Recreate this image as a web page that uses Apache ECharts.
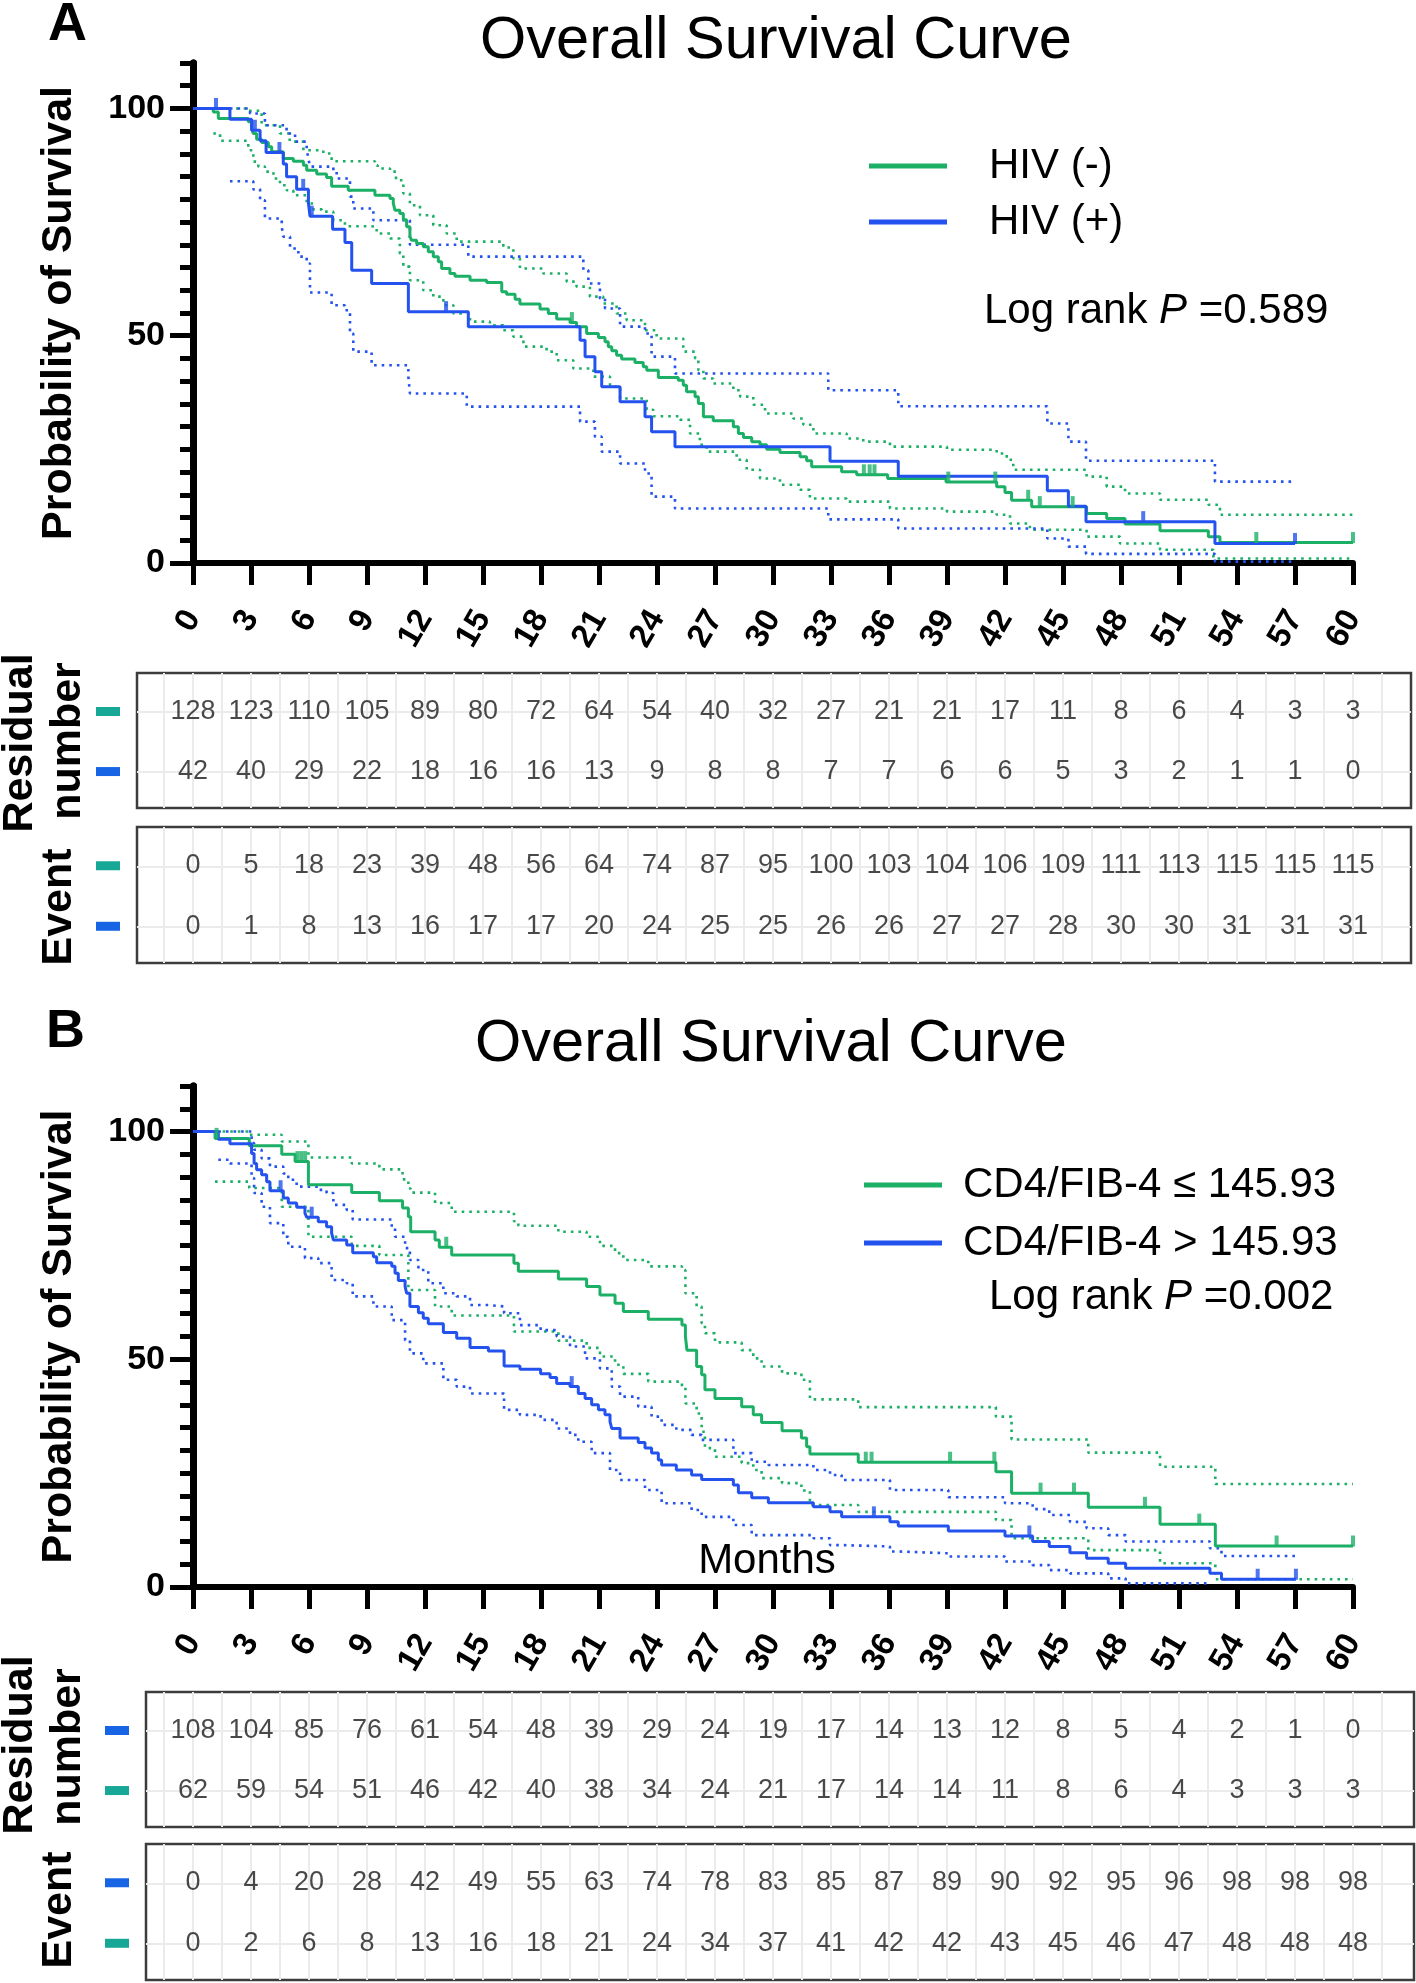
<!DOCTYPE html>
<html><head><meta charset="utf-8">
<script src="https://cdn.jsdelivr.net/npm/echarts@6/dist/echarts.min.js"></script>
<style>html,body{margin:0;padding:0;background:#fff}#c{width:1416px;height:1983px}</style>
</head><body><div id="c"></div>
<script>
// ---------- DATA ----------
const months = [0,3,6,9,12,15,18,21,24,27,30,33,36,39,42,45,48,51,54,57,60];
const yMajorTicks = [0,50,100];

// Panel A: HIV (-) green, HIV (+) blue  [month, survival %]
const osA_hivNeg = [[0,100],[1.05,99.2],[1.31,97.8],[2.86,97.1],[3.03,95.6],[3.12,94.5],[3.29,93.2],[3.55,92.5],[3.9,91.6],[4.07,90.5],[4.67,89.0],[5.19,88.4],[5.71,87.5],[5.88,86.4],[6.4,85.6],[6.91,84.8],[7.17,82.9],[8.03,82.0],[9.41,80.9],[10.19,80.2],[10.36,79.1],[10.45,77.6],[10.7,76.9],[10.88,75.5],[11.05,74.0],[11.22,71.8],[11.31,71.0],[11.57,70.3],[11.91,69.6],[12.17,68.5],[12.43,67.4],[12.69,66.3],[12.86,64.8],[13.29,63.7],[13.55,63.1],[14.33,62.2],[15.19,61.7],[15.97,59.7],[16.22,59.1],[16.66,58.0],[16.91,57.0],[17.95,55.9],[18.38,54.9],[18.81,53.7],[19.5,52.9],[19.84,52.0],[20.36,50.5],[20.97,49.6],[21.31,48.7],[21.48,47.6],[21.66,46.7],[21.91,45.7],[22.17,44.9],[22.86,44.1],[23.29,43.2],[23.47,42.4],[24.07,40.8],[25.1,40.2],[25.36,39.1],[25.53,37.7],[25.97,36.6],[26.14,35.1],[26.4,32.2],[26.91,31.3],[27.95,30.0],[28.21,28.5],[28.47,27.6],[28.9,26.7],[29.33,26.0],[29.67,25.0],[30.36,24.3],[31.4,23.4],[31.74,22.5],[32.0,21.2],[33.55,20.1],[34.33,19.4],[35.93,18.6],[38.95,17.8],[41.57,16.8],[42.0,15.5],[42.34,13.8],[43.38,12.4],[46.22,10.9],[47.26,9.8],[48.21,8.6],[50.02,7.1],[52.52,5.8],[53.12,4.5],[60,4.5]];
const osA_hivNeg_upper = [[1.05,100],[2.86,99.5],[3.55,96.3],[4.5,94.5],[5.0,92.7],[5.71,90.8],[6.74,90.1],[7.17,88.4],[9.41,87.5],[9.55,86.8],[10.19,86.1],[10.5,84.2],[10.88,81.3],[11.22,78.7],[11.74,76.5],[12.43,74.3],[13.12,72.5],[13.64,70.7],[16.05,69.4],[16.57,67.0],[16.91,64.8],[18.12,63.7],[19.33,61.9],[19.84,60.8],[20.53,58.6],[21.22,57.1],[21.91,54.9],[22.43,53.4],[23.38,51.2],[23.98,49.4],[25.36,46.5],[25.97,45.0],[26.14,42.4],[26.4,40.6],[26.91,39.5],[27.95,38.0],[28.3,36.6],[28.98,34.8],[29.59,32.9],[31.05,31.8],[31.57,30.4],[32.09,28.5],[33.81,27.4],[34.67,26.7],[36.05,25.6],[39.0,24.9],[41.57,24.1],[42.09,22.7],[42.43,20.5],[46.22,19.0],[47.26,16.8],[48.21,15.3],[50.02,13.9],[52.52,12.8],[53.12,10.6],[60,10.6]];
const osA_hivNeg_lower = [[1.05,94.5],[1.4,92.9],[2.86,90.8],[3.12,88.3],[3.38,87.2],[3.72,86.1],[4.16,84.6],[4.5,83.1],[4.84,82.0],[5.19,80.9],[5.88,79.1],[6.22,77.8],[6.66,77.3],[7.26,75.4],[7.86,74.1],[9.16,74.0],[9.5,72.5],[10.19,71.4],[10.7,68.1],[10.88,65.2],[11.22,62.2],[11.91,60.0],[12.43,58.6],[12.95,56.7],[13.47,54.9],[14.33,53.1],[15.36,52.3],[16.05,51.2],[16.57,49.8],[17.09,47.6],[18.29,46.5],[18.81,44.6],[19.67,42.8],[20.71,41.0],[21.57,38.8],[22.09,36.2],[23.47,33.7],[23.81,32.3],[25.19,31.5],[25.71,28.5],[26.22,26.0],[26.57,24.5],[28.12,22.7],[28.64,20.5],[29.33,18.6],[30.36,17.2],[31.4,16.1],[31.91,14.2],[33.81,13.5],[36.05,12.0],[39.0,11.3],[41.57,10.6],[42.26,8.7],[43.29,7.3],[46.22,5.8],[47.95,4.3],[50.02,2.9],[52.78,1.0],[60,1.0]];
const censorA_hivNeg = [19.6,34.7,35.0,35.25,39.07,41.5,43.2,43.8,45.5,55.0,60];

const osA_hivPos = [[0,100],[1.91,97.6],[3.03,95.2],[3.47,92.9],[3.78,90.3],[4.67,87.8],[4.84,85.0],[5.36,82.2],[5.97,79.2],[6.05,76.3],[7.22,73.4],[7.86,70.5],[8.21,64.4],[9.24,61.5],[11.14,55.3],[14.24,52.0],[20.02,49.0],[20.28,45.4],[20.79,42.1],[21.14,38.8],[22.09,35.5],[23.38,32.2],[23.72,28.9],[24.93,25.6],[32.95,22.4],[36.48,19.1],[44.19,15.9],[45.28,12.5],[46.19,9.1],[52.86,4.3],[57.0,4.3]];
const osA_hivPos_upper = [[1.91,100],[2.95,98.9],[3.72,96.3],[4.84,94.5],[5.28,92.7],[5.88,90.9],[5.97,89.0],[6.05,87.2],[7.26,86.1],[7.43,84.6],[8.12,80.6],[8.29,78.0],[9.33,75.4],[11.22,70.0],[14.24,67.4],[20.19,64.4],[20.45,61.5],[21.05,58.2],[21.31,56.0],[22.09,52.0],[23.38,50.5],[23.72,45.4],[24.93,41.7],[32.86,38.0],[36.48,34.5],[44.19,30.7],[45.28,26.7],[46.19,22.5],[52.86,17.9],[57.0,17.9]];
const osA_hivPos_lower = [[1.91,84.0],[3.12,82.2],[3.47,79.8],[3.72,75.8],[4.59,74.0],[4.67,71.8],[5.02,69.2],[5.45,67.4],[5.88,65.9],[6.05,59.5],[7.17,56.7],[7.86,55.6],[8.12,50.5],[8.29,46.5],[9.24,43.5],[11.14,41.0],[11.22,37.3],[14.16,34.4],[20.02,31.1],[20.79,27.8],[21.14,24.5],[22.09,21.9],[23.38,19.7],[23.72,14.6],[24.93,12.0],[32.86,9.6],[36.48,7.6],[44.19,5.4],[45.28,3.6],[46.19,2.0],[52.86,0.3],[57.0,0.3]];
const censorA_hivPos = [1.19,3.2,4.47,5.7,6.14,13.09,49.15,57.0];

// Panel B: CD4/FIB-4 <= 145.93 green, > 145.93 blue
const osB_low = [[0,100],[1.14,98.5],[2.91,96.9],[4.59,95.0],[5.28,93.4],[5.97,88.3],[8.21,86.6],[9.64,84.8],[10.84,83.2],[11.14,81.3],[11.26,78.0],[12.52,76.2],[12.74,74.6],[13.38,72.9],[16.6,71.1],[16.83,69.3],[18.9,67.6],[20.36,66.0],[21.05,64.1],[21.83,62.3],[22.26,60.5],[23.55,58.8],[25.29,57.5],[25.47,55.0],[25.55,52.0],[26.05,48.4],[26.31,46.6],[26.48,43.3],[27.0,41.4],[28.38,39.6],[28.98,37.8],[29.41,36.1],[30.47,34.3],[31.47,32.7],[31.74,30.8],[31.91,29.2],[34.41,27.4],[41.53,25.3],[42.34,20.6],[46.31,17.5],[50.02,13.8],[52.88,9.0],[60,9.0]];
const osB_low_upper = [[1.14,100],[2.91,99.3],[4.59,97.8],[5.97,94.3],[8.21,93.0],[9.64,91.7],[10.84,89.5],[11.14,87.5],[11.26,86.6],[12.52,84.3],[13.38,82.4],[16.6,80.3],[16.83,79.3],[18.9,78.0],[20.36,76.9],[21.05,74.9],[21.83,73.3],[22.26,71.8],[23.55,70.4],[25.29,69.6],[25.47,64.5],[26.05,61.6],[26.31,57.9],[26.48,55.7],[27.0,53.7],[28.38,52.0],[28.98,50.2],[29.41,48.4],[30.47,46.9],[31.47,45.5],[31.91,41.2],[34.41,39.5],[41.53,37.4],[42.34,32.4],[46.31,29.5],[50.02,26.4],[52.88,22.6],[60,22.6]];
const osB_low_lower = [[1.14,89.0],[2.91,87.6],[4.59,83.5],[5.97,76.9],[8.21,74.9],[9.64,72.9],[11.14,65.2],[12.52,61.6],[13.38,59.6],[16.6,56.1],[18.9,54.1],[20.36,52.5],[21.05,50.6],[21.83,48.8],[22.26,46.8],[23.55,45.1],[25.29,44.0],[25.47,40.3],[26.05,38.1],[26.31,34.1],[26.48,30.5],[27.0,28.6],[28.38,27.2],[28.98,25.7],[29.41,23.9],[30.47,22.8],[31.47,21.2],[31.91,18.0],[34.41,16.5],[41.53,14.7],[42.34,10.7],[46.31,8.1],[50.02,5.2],[52.88,1.7],[60,1.7]];
const censorB_low = [1.22,5.4,5.6,5.8,13.1,34.8,35.1,39.16,41.45,43.84,45.57,49.24,52.05,56.05,60];

const osB_high = [[0,100],[1.31,98.3],[1.91,97.3],[3.03,95.2],[3.16,93.0],[3.29,91.6],[3.55,90.5],[3.81,89.0],[3.98,87.0],[4.67,85.4],[4.93,84.3],[5.36,83.4],[5.79,82.1],[5.88,81.2],[6.48,80.2],[6.91,79.1],[7.17,77.7],[7.26,76.2],[7.95,75.1],[8.26,73.4],[9.33,72.5],[9.5,71.2],[10.28,70.4],[10.45,68.9],[10.62,67.3],[10.97,66.0],[11.05,64.5],[11.22,61.6],[11.66,60.2],[11.91,59.0],[12.17,57.8],[12.95,55.9],[13.64,54.6],[14.33,52.6],[15.28,51.8],[16.09,48.5],[16.91,47.8],[17.98,46.8],[18.47,46.0],[18.81,44.7],[19.5,44.0],[19.93,42.5],[20.28,41.4],[20.62,40.0],[20.97,38.9],[21.31,37.8],[21.57,36.3],[21.66,34.8],[22.09,32.7],[23.03,31.7],[23.38,30.5],[23.72,29.4],[24.07,27.9],[24.24,26.8],[25.0,25.7],[25.79,24.6],[26.31,23.6],[27.95,22.4],[28.21,20.7],[28.9,19.6],[29.76,18.5],[32.09,17.6],[32.95,16.5],[33.55,15.4],[36.05,14.3],[36.48,13.4],[39.07,12.3],[42.0,11.2],[43.43,10.0],[44.29,8.9],[45.36,7.5],[46.22,6.3],[47.34,5.2],[48.24,4.1],[52.6,3.0],[53.2,1.7],[57.05,1.7]];
const osB_high_upper = [[1.31,100],[3.03,97.5],[3.16,96.0],[3.55,94.1],[3.98,92.3],[4.67,90.8],[4.93,89.4],[5.36,87.9],[6.48,87.2],[6.91,86.5],[7.26,83.9],[7.95,82.8],[8.26,80.7],[10.28,78.8],[10.45,76.9],[10.97,74.4],[11.22,71.8],[11.66,69.6],[12.17,66.7],[12.95,64.5],[13.64,63.8],[14.33,61.9],[15.28,61.6],[16.09,60.1],[16.91,57.5],[17.98,56.4],[18.81,55.0],[19.5,52.8],[20.28,50.2],[21.05,48.0],[21.66,44.0],[22.09,41.8],[23.03,39.6],[23.72,37.4],[24.24,35.6],[25.0,34.5],[25.79,33.4],[26.31,32.3],[27.95,29.4],[28.9,27.5],[29.76,26.8],[32.09,25.7],[32.95,24.6],[33.55,23.5],[36.05,21.3],[39.07,19.7],[42.0,18.4],[43.43,17.1],[44.29,15.8],[45.36,14.3],[46.22,12.9],[47.34,11.4],[48.24,10.0],[52.6,8.5],[53.2,6.8],[57.05,6.8]];
const osB_high_lower = [[1.31,93.8],[1.91,93.0],[3.03,89.8],[3.16,86.5],[3.55,83.5],[3.98,79.9],[4.67,76.9],[4.93,74.7],[5.79,72.2],[6.48,71.1],[7.17,67.4],[7.95,66.7],[8.26,63.8],[9.33,61.6],[10.28,58.6],[10.97,54.2],[11.22,51.3],[11.91,49.1],[12.95,45.5],[13.64,44.0],[14.33,42.5],[16.09,38.9],[16.91,37.8],[17.98,36.7],[18.81,34.8],[19.5,33.4],[19.93,31.9],[20.62,29.4],[21.57,25.7],[22.09,23.5],[23.38,21.3],[24.24,18.4],[25.79,16.9],[26.31,15.4],[27.95,13.6],[28.9,11.4],[32.09,10.7],[32.95,9.2],[33.55,8.9],[36.05,7.8],[36.48,7.4],[39.07,6.7],[42.0,5.6],[43.43,4.8],[44.29,3.7],[45.36,3.0],[47.34,1.9],[48.24,0.8],[52.6,0.8]];
const censorB_high = [4.53,6.14,19.59,35.22,43.26,55.07,57.05];

// Tables
const riskA_hivNeg  = [128,123,110,105,89,80,72,64,54,40,32,27,21,21,17,11,8,6,4,3,3];
const riskA_hivPos  = [42,40,29,22,18,16,16,13,9,8,8,7,7,6,6,5,3,2,1,1,0];
const eventA_hivNeg = [0,5,18,23,39,48,56,64,74,87,95,100,103,104,106,109,111,113,115,115,115];
const eventA_hivPos = [0,1,8,13,16,17,17,20,24,25,25,26,26,27,27,28,30,30,31,31,31];
const riskB_high  = [108,104,85,76,61,54,48,39,29,24,19,17,14,13,12,8,5,4,2,1,0];
const riskB_low   = [62,59,54,51,46,42,40,38,34,24,21,17,14,14,11,8,6,4,3,3,3];
const eventB_high = [0,4,20,28,42,49,55,63,74,78,83,85,87,89,90,92,95,96,98,98,98];
const eventB_low  = [0,2,6,8,13,16,18,21,24,34,37,41,42,42,43,45,46,47,48,48,48];

// ---------- STYLE / LAYOUT ----------
const FONT = "'Liberation Sans', Arial, Helvetica, sans-serif";
const GREEN = '#1cb066', BLUE = '#2452ee';
const TEAL_MK = '#17a796', BLUE_MK = '#1765e4';
const ROW1 = 0.715, ROW2 = 0.27;
const PX_PER_MONTH = 19.333, X0 = 193;

const tables = [
  {top:673, h:135, left:137, right:1411, r1:riskA_hivNeg, r2:riskA_hivPos, c1:TEAL_MK, c2:BLUE_MK, mx:108},
  {top:827, h:136, left:137, right:1411, r1:eventA_hivNeg, r2:eventA_hivPos, c1:TEAL_MK, c2:BLUE_MK, mx:108},
  {top:1692, h:135, left:146, right:1414, r1:riskB_high, r2:riskB_low, c1:BLUE_MK, c2:TEAL_MK, mx:117},
  {top:1844, h:136, left:146, right:1414, r1:eventB_high, r2:eventB_low, c1:BLUE_MK, c2:TEAL_MK, mx:117}
];

function sAt(curve, t){ let v = curve[0][1]; for (const p of curve){ if (p[0] <= t + 1e-9) v = p[1]; else break; } return v; }

const grids = [
  {left:X0, width:60*PX_PER_MONTH, top:63, height:500},
  {left:X0, width:60*PX_PER_MONTH, top:1086, height:501}
];
tables.forEach(t => grids.push({left:t.left, width:t.right-t.left, top:t.top, height:t.h, show:true, borderColor:'#3c3c3c', borderWidth:2.5, backgroundColor:'#fff'}));

const plotX = (gi) => ({
  gridIndex:gi, type:'value', min:0, max:60, interval:3,
  axisLine:{lineStyle:{color:'#000', width:6}},
  axisTick:{length:22, lineStyle:{color:'#000', width:5}},
  axisLabel:{rotate:60, margin:50, fontSize:33, fontWeight:'bold', color:'#000', fontFamily:FONT},
  splitLine:{show:false}
});
const xAxes = [plotX(0), plotX(1)];
tables.forEach((t,i) => xAxes.push({gridIndex:i+2, type:'value', show:false,
  min:(t.left - X0)/PX_PER_MONTH, max:(t.right - X0)/PX_PER_MONTH}));

const yMajor = (gi) => ({
  gridIndex:gi, type:'value', position:'left', offset:0, min:0, max:110, interval:10,
  name:'Probability of Survival', nameLocation:'middle', nameRotate:90, nameGap:112,
  nameTextStyle:{fontSize:43, fontWeight:'bold', color:'#000', fontFamily:FONT},
  axisLine:{show:true, lineStyle:{color:'#000', width:7}},
  axisTick:{show:true, customValues:yMajorTicks, length:23, lineStyle:{color:'#000', width:5}},
  axisLabel:{customValues:yMajorTicks, margin:28, fontSize:34, fontWeight:'bold', color:'#000', fontFamily:FONT},
  splitLine:{show:false}
});
const yMinor = (gi) => ({
  gridIndex:gi, type:'value', position:'left', offset:0, min:0, max:110, interval:5,
  axisLine:{show:true, lineStyle:{color:'#000', width:7}},
  axisTick:{show:true, length:13, lineStyle:{color:'#000', width:5}},
  axisLabel:{show:false}, splitLine:{show:false}
});
const yAxes = [yMajor(0), yMinor(0), yMajor(1), yMinor(1)];
tables.forEach((t,i) => yAxes.push({gridIndex:i+2, type:'value', min:0, max:1, show:false}));

const series = [];
function addPanel(gi, yi, main1, up1, lo1, cen1, name1, col1, main2, up2, lo2, cen2, name2, col2){
  const ci = (data, col) => ({type:'line', step:'end', data, xAxisIndex:gi, yAxisIndex:yi, symbol:'none',
    lineStyle:{color:col, width:2.6, type:[2.6,5]}, silent:true, z:2});
  series.push(ci(up1,col1), ci(lo1,col1), ci(up2,col2), ci(lo2,col2));
  const km = (name, data, col) => ({name, type:'line', step:'end', data, xAxisIndex:gi, yAxisIndex:yi,
    symbol:'none', lineStyle:{color:col, width:3}, itemStyle:{color:col}, z:3});
  series.push(km(name1, main1, col1), km(name2, main2, col2));
  const cens = (times, curve, col) => ({type:'scatter', xAxisIndex:gi, yAxisIndex:yi,
    data: times.map(t => [t, sAt(curve, t)]), symbol:'rect', symbolSize:[4,11], symbolOffset:[0,-5],
    itemStyle:{color:col}, z:4, silent:true});
  series.push(cens(cen1, main1, col1), cens(cen2, main2, col2));
}
addPanel(0, 0, osA_hivNeg, osA_hivNeg_upper, osA_hivNeg_lower, censorA_hivNeg, 'HIV (-)', GREEN,
               osA_hivPos, osA_hivPos_upper, osA_hivPos_lower, censorA_hivPos, 'HIV (+)', BLUE);
addPanel(1, 2, osB_low, osB_low_upper, osB_low_lower, censorB_low, 'CD4/FIB-4 ≤ 145.93', GREEN,
               osB_high, osB_high_upper, osB_high_lower, censorB_high, 'CD4/FIB-4 > 145.93', BLUE);

const gridLineX = [];
for (let m = -1.5; m <= 61.5; m += 1.5) gridLineX.push(m);
tables.forEach((t,i) => {
  const gi = i + 2, yi = i + 4;
  series.push({type:'scatter', xAxisIndex:gi, yAxisIndex:yi, data:[], silent:true, z:1,
    markLine:{silent:true, symbol:['none','none'], label:{show:false}, animation:false,
      lineStyle:{color:'#ebebeb', width:2, type:'solid'},
      data:[...gridLineX.map(v => ({xAxis:v})), {yAxis:ROW1}, {yAxis:ROW2}]}});
  [[t.r1, ROW1],[t.r2, ROW2]].forEach(([vals, ry]) => {
    series.push({type:'scatter', xAxisIndex:gi, yAxisIndex:yi, silent:true, z:5,
      data: months.map((m,k) => [m, ry, vals[k]]), symbolSize:1, itemStyle:{color:'rgba(0,0,0,0)'},
      label:{show:true, position:'inside', formatter:p => String(p.value[2]), fontSize:27, color:'#1a1a1a', fontFamily:FONT}});
  });
});

// ---------- decorations ----------
const txt = (text, x, y, size, opts={}) => ({type:'text', x, y, rotation:opts.rot||0, z:100,
  style:{text, fill:'#000', fontSize:size, fontFamily:FONT, fontWeight:opts.bold?'bold':'normal',
    align:opts.align||'center', textAlign:opts.align||'center', verticalAlign:'middle', textVerticalAlign:'middle', rich:opts.rich}});
const richLR = {n:{fontSize:42, fontFamily:FONT, fill:'#000'}, i:{fontSize:42, fontFamily:FONT, fontStyle:'italic', fill:'#000'}};
const graphic = [
  txt('A', 48, 25, 54, {bold:true, align:'left'}),
  txt('B', 46, 1032, 54, {bold:true, align:'left'}),
  txt('Overall Survival Curve', 776, 42, 59.5),
  txt('Overall Survival Curve', 771, 1045, 59.5),
  txt('{n|Log rank }{i|P}{n| =0.589}', 984, 311, 42, {align:'left', rich:richLR}),
  txt('{n|Log rank }{i|P}{n| =0.002}', 989, 1297, 42, {align:'left', rich:richLR}),
  txt('Months', 767, 1561, 42),
  txt('Residual', 20, 743, 43, {bold:true, rot:Math.PI/2}),
  txt('number', 68, 741, 43, {bold:true, rot:Math.PI/2}),
  txt('Event', 59, 907, 43, {bold:true, rot:Math.PI/2}),
  txt('Residual', 20, 1745, 43, {bold:true, rot:Math.PI/2}),
  txt('number', 68, 1747, 43, {bold:true, rot:Math.PI/2}),
  txt('Event', 59, 1910, 43, {bold:true, rot:Math.PI/2})
];
tables.forEach(t => {
  [[ROW1, t.c1],[ROW2, t.c2]].forEach(([ry, col]) => {
    const cy = t.top + (1 - ry) * t.h;
    graphic.push({type:'rect', z:100, shape:{x:t.mx-12, y:cy-4.5, width:24, height:9}, style:{fill:col}});
  });
});

const legendBase = {orient:'vertical', icon:'rect', itemWidth:78, itemHeight:5, selectedMode:false};
const option = {
  animation:false,
  backgroundColor:'#fff',
  grid: grids,
  xAxis: xAxes,
  yAxis: yAxes,
  legend: [
    Object.assign({}, legendBase, {data:['HIV (-)','HIV (+)'], left:864, top:140, itemGap:14,
      textStyle:{fontSize:42, color:'#000', fontFamily:FONT, padding:[10,0,0,37]}}),
    Object.assign({}, legendBase, {data:['CD4/FIB-4 ≤ 145.93','CD4/FIB-4 > 145.93'], left:859, top:1159, itemGap:16,
      textStyle:{fontSize:42, color:'#000', fontFamily:FONT, padding:[0,0,0,16]}})
  ],
  series,
  graphic
};
const chart = echarts.init(document.getElementById('c'), null, {renderer:'canvas'});
chart.setOption(option);
</script></body></html>
